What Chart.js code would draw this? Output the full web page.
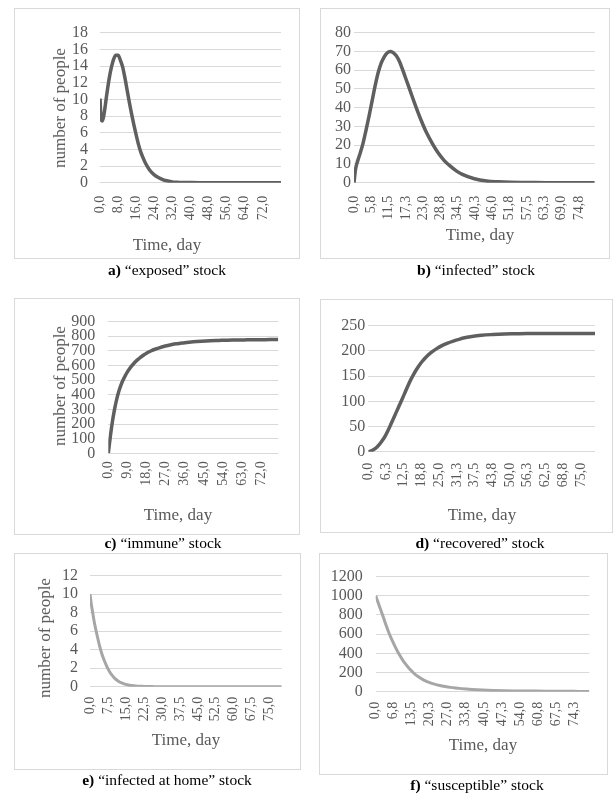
<!DOCTYPE html>
<html>
<head>
<meta charset="utf-8">
<script src="https://cdn.jsdelivr.net/npm/chart.js@4.4.0/dist/chart.umd.min.js"></script>
<style>
  body { margin: 0; background: #fff; font-family: "Liberation Serif", serif; }
  #page { position: relative; width: 615px; height: 794px; overflow: hidden; }
  .box { position: absolute; border: 1px solid #d9d9d9; box-sizing: border-box; }
  .box canvas { position: absolute; left: 0; top: 0; }
  .ttl { position: absolute; font-size: 17px; color: #595959; white-space: nowrap; transform: translate(-50%, -50%); }
  .ttl.rot { transform: translate(-50%, -50%) rotate(-90deg); }
  .cap { position: absolute; font-size: 15.5px; color: #000; white-space: nowrap; transform: translate(-50%, -50%); }
</style>
</head>
<body>
<div id="page"></div>
<script>
// ========== DATA ==========
const days = [0, 0.5, 1, 1.5, 2, 3, 4, 5, 6, 7, 8, 9, 10, 11, 12, 13, 14, 15, 16, 17, 18, 19, 20,
  22, 24, 26, 28, 30, 32, 34, 36, 40, 44, 48, 52, 56, 60, 64, 68, 72, 76, 80];

const exposed = [10.1, 7.6, 7.4, 7.8, 8.6,
  10.6, 12.4, 13.8, 14.8, 15.3, 15.3, 14.7, 13.9, 12.6, 11.1, 9.6, 8.2, 6.9, 5.7, 4.6, 3.7, 3.0, 2.4,
  1.5, 0.95, 0.6, 0.35, 0.2, 0.1, 0.06, 0.03,
  0.01, 0, 0, 0, 0, 0, 0, 0, 0, 0, 0];

const infected = [0, 7, 10.5, 13, 15.5,
  21, 28, 35.5, 43.5, 51.5, 58.5, 63.6, 67, 69.2, 70, 69.4, 67.8, 65, 61, 56.5, 52, 47.5, 43,
  34.5, 27, 21, 15.8, 11.8, 8.8, 6.3, 4.4,
  2.1, 0.9, 0.45, 0.2, 0.1, 0.05, 0.02, 0.01, 0, 0, 0];

const immune = [0, 62, 120, 173, 222,
  305, 372, 425, 467, 502, 531, 556, 578, 597, 614, 629, 642, 654, 665, 675, 684, 692, 699,
  711, 721, 730, 737, 743, 748, 752, 756,
  762, 766, 769, 771, 773, 774, 775, 776, 776, 777, 777];

const recovered = [0, 0.6, 1.5, 2.8, 4.5,
  9, 15, 22.5, 31.5, 42.5, 55, 67.5, 80, 92.5, 105, 118, 131, 143, 153.5, 163, 171.5, 179, 185.5,
  196, 204, 210.5, 215.5, 219.5, 223, 226, 228,
  231, 232.5, 233.5, 234, 234.5, 234.5, 234.5, 234.5, 234.5, 234.5, 234.5];

const atHome = [10, 9.0, 8.2, 7.4, 6.7,
  5.5, 4.4, 3.5, 2.8, 2.2, 1.7, 1.3, 1.0, 0.75, 0.57, 0.43, 0.33, 0.25, 0.19, 0.14, 0.11, 0.08, 0.06,
  0.04, 0.02, 0.01, 0, 0, 0, 0, 0,
  0, 0, 0, 0, 0, 0, 0, 0, 0, 0, 0];

const susceptible = [1000, 962, 923, 884, 845,
  765, 685, 610, 545, 485, 430, 380, 335, 295, 260, 228, 200, 176, 155, 137, 121, 108, 97,
  79, 65, 54, 45, 38, 32, 27, 23,
  17, 13, 10, 8, 7, 6, 5, 4, 4, 3, 3];

// x tick positions (day), shown as "0,0", "5,8" ...
const ticksExposed = [0, 8, 16, 24, 32, 40, 48, 56, 64, 72];
const ticksInfected = [0, 5.75, 11.5, 17.25, 23, 28.75, 34.5, 40.25, 46, 51.75, 57.5, 63.25, 69, 74.75];
const ticksImmune = [0, 9, 18, 27, 36, 45, 54, 63, 72];
const ticksRecovered = [0, 6.25, 12.5, 18.75, 25, 31.25, 37.5, 43.75, 50, 56.25, 62.5, 68.75, 75];
const ticksAtHome = [0, 7.5, 15, 22.5, 30, 37.5, 45, 52.5, 60, 67.5, 75];
const ticksSusceptible = [0, 6.75, 13.5, 20.25, 27, 33.75, 40.5, 47.25, 54, 60.75, 67.5, 74.25];

const yTitle = 'number of people';
const xTitle = 'Time, day';

// ========== PANELS ==========
const panels = [
  { letter: 'a)', name: '“exposed” stock', values: exposed, xTicks: ticksExposed, yMax: 18, yStep: 2,
    color: '#5f5f5f', width: 3.5,
    box: [14, 8, 286, 251], plot: [100, 32.7, 281, 182.7], yPad: 12, xPad: 13,
    yT: [60, 107.5], xT: [167, 245], cap: [167, 270] },
  { letter: 'b)', name: '“infected” stock', values: infected, xTicks: ticksInfected, yMax: 80, yStep: 10,
    color: '#5f5f5f', width: 3.5,
    box: [320, 8, 290, 251], plot: [354, 32.7, 605, 182.7], yPad: 3, xPad: 13,
    yT: null, xT: [480, 235], cap: [476, 270] },
  { letter: 'c)', name: '“immune” stock', values: immune, xTicks: ticksImmune, yMax: 900, yStep: 100,
    color: '#5f5f5f', width: 3.5,
    box: [14, 298, 286, 237], plot: [108.3, 317.3, 278.3, 453.3], yPad: 13, xPad: 8,
    yT: [60, 386], xT: [178, 515], cap: [163, 543] },
  { letter: 'd)', name: '“recovered” stock', values: recovered, xTicks: ticksRecovered, yMax: 250, yStep: 50,
    color: '#5f5f5f', width: 3.5,
    box: [320, 299, 293, 234], plot: [368.3, 325.7, 595, 451.7], yPad: 3, xPad: 11,
    yT: null, xT: [482, 515], cap: [480, 543] },
  { letter: 'e)', name: '“infected at home” stock', values: atHome, xTicks: ticksAtHome, yMax: 12, yStep: 2,
    color: '#a6a6a6', width: 3,
    box: [14, 553, 287, 217], plot: [90, 572, 281.7, 686.7], yPad: 12, xPad: 10,
    yT: [44.5, 638], xT: [186, 740], cap: [167, 780] },
  { letter: 'f)', name: '“susceptible” stock', values: susceptible, xTicks: ticksSusceptible, yMax: 1200, yStep: 200,
    color: '#a6a6a6', width: 3,
    box: [319, 553, 289, 222], plot: [375.7, 571.7, 589.3, 691.7], yPad: 13, xPad: 10,
    yT: null, xT: [483, 745], cap: [477, 785] }
];

Chart.defaults.font.family = "'Liberation Serif', serif";
Chart.defaults.color = '#595959';

const page = document.getElementById('page');

function addText(cls, text, x, y) {
  const el = document.createElement('div');
  el.className = cls;
  el.style.left = x + 'px';
  el.style.top = y + 'px';
  el.innerHTML = text;
  page.appendChild(el);
}

panels.forEach(p => {
  const [bx, by, bw, bh] = p.box;
  const box = document.createElement('div');
  box.className = 'box';
  box.style.left = bx + 'px';
  box.style.top = by + 'px';
  box.style.width = bw + 'px';
  box.style.height = bh + 'px';
  const canvas = document.createElement('canvas');
  const cw = bw - 2, ch = bh - 2;
  canvas.width = cw;
  canvas.height = ch;
  canvas.style.width = cw + 'px';
  canvas.style.height = ch + 'px';
  box.appendChild(canvas);
  page.appendChild(box);

  const ox = bx + 1, oy = by + 1;
  const [pl, pt, pr, pb] = p.plot;

  new Chart(canvas, {
    type: 'line',
    data: {
      datasets: [{
        data: days.map((d, i) => ({ x: d, y: p.values[i] })),
        borderColor: p.color,
        borderWidth: p.width,
        pointRadius: 0,
        cubicInterpolationMode: 'monotone',
        fill: false
      }]
    },
    options: {
      responsive: false,
      animation: false,
      layout: { padding: { left: 0, top: pt - oy, right: ox + cw - pr, bottom: 0 } },
      plugins: { legend: { display: false }, tooltip: { enabled: false } },
      scales: {
        x: {
          type: 'linear',
          min: 0,
          max: 80,
          grid: { display: false, drawTicks: false },
          border: { display: false },
          afterBuildTicks: s => { s.ticks = p.xTicks.map(v => ({ value: v })); },
          afterFit: s => { s.height = oy + ch - pb; },
          ticks: {
            autoSkip: false,
            minRotation: 90,
            maxRotation: 90,
            padding: p.xPad,
            font: { size: 14 },
            callback: v => v.toFixed(1).replace('.', ',')
          }
        },
        y: {
          min: 0,
          max: p.yMax,
          grid: { color: '#d9d9d9', lineWidth: 1, drawTicks: false },
          border: { display: false },
          afterFit: s => { s.width = pl - ox; },
          ticks: {
            autoSkip: false,
            stepSize: p.yStep,
            padding: p.yPad,
            font: { size: 16 },
            callback: v => String(v)
          }
        }
      }
    }
  });

  if (p.yT) addText('ttl rot', yTitle, p.yT[0], p.yT[1]);
  addText('ttl', xTitle, p.xT[0], p.xT[1]);
  addText('cap', '<b>' + p.letter + '</b> ' + p.name, p.cap[0], p.cap[1]);
});
</script>
</body>
</html>
